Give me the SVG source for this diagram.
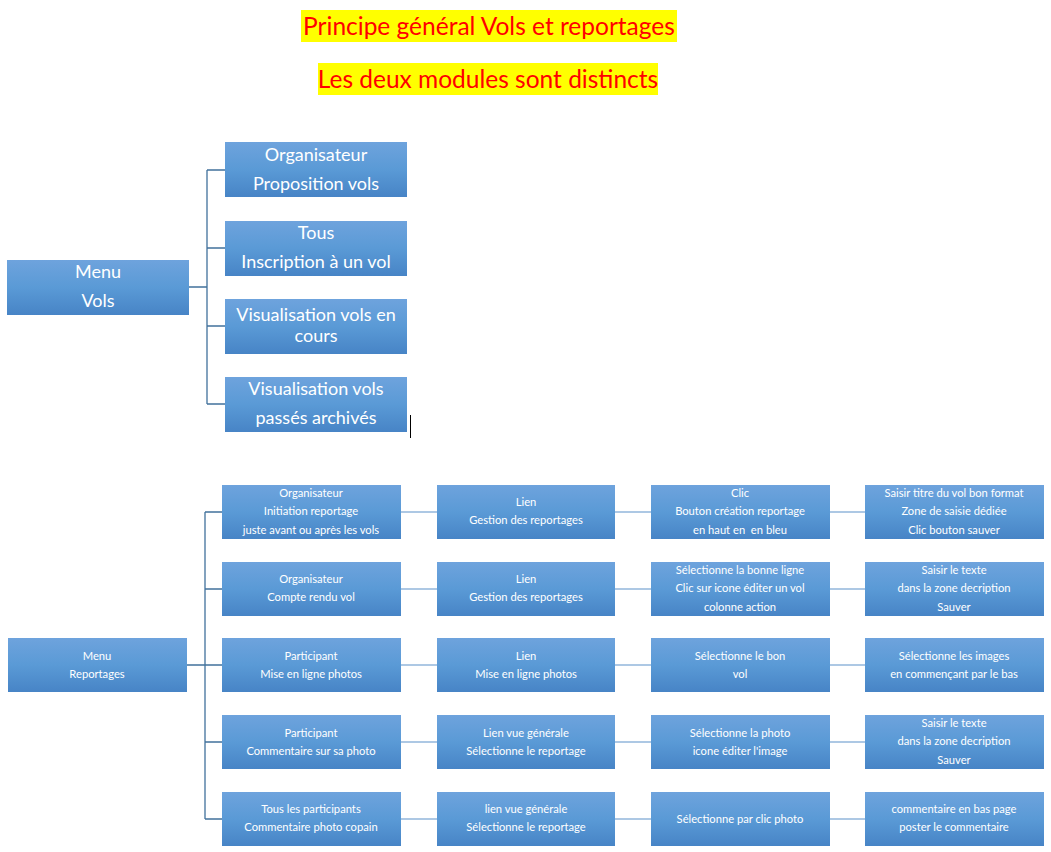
<svg xmlns="http://www.w3.org/2000/svg" width="1051" height="852" viewBox="0 0 1051 852">
<defs>
<linearGradient id="g" x1="0" y1="0" x2="0" y2="1">
<stop offset="0" stop-color="#6ea3dd"/>
<stop offset="0.5" stop-color="#5a9ad6"/>
<stop offset="1" stop-color="#4784c6"/>
</linearGradient>
</defs>
<style>
.b{fill:url(#g);}
.t{font-family:Lato,"Open Sans","Liberation Sans",sans-serif;fill:#ffffff;text-anchor:middle;}
.L{font-size:18px;}
.s{font-size:11.2px;}
.h{font-family:Lato,"Open Sans","Liberation Sans",sans-serif;font-size:24.5px;fill:#ff0000;text-anchor:middle;}
.c{stroke:#41719c;stroke-width:1.3;fill:none;}
.c2{stroke:#93b6dc;stroke-width:1.3;fill:none;}
</style>
<rect width="1051" height="852" fill="#ffffff"/>
<g id="title">
<rect x="301" y="10" width="376" height="32" fill="#ffff00"/>
<text class="h" x="489" y="35">Principe général Vols et reportages</text>
<rect x="318" y="63" width="340" height="32" fill="#ffff00"/>
<text class="h" x="488" y="88">Les deux modules sont distincts</text>
</g>
<g id="connectors">
<path class="c" d="M189 287H207M207 170V404M207 170H225M207 248H225M207 326H225M207 404H225"/>
<path class="c" d="M187 665H205M205 512V819M205 512H222M205 589H222M205 665H222M205 742H222M205 819H222"/>
<path class="c2" d="M401 512H437M615 512H651M830 512H865M401 589H437M615 589H651M830 589H865M401 665H437M615 665H651M830 665H865M401 742H437M615 742H651M830 742H865M401 819H437M615 819H651M830 819H865"/>
</g>
<line x1="410.5" y1="415" x2="410.5" y2="438" stroke="#000000" stroke-width="1"/>
<g id="menu-vols"><rect class="b" x="7" y="260" width="182" height="55"/><text class="t L" x="98" y="278">Menu</text><text class="t L" x="98" y="307">Vols</text></g>
<g id="v1"><rect class="b" x="225" y="142" width="182" height="55"/><text class="t L" x="316" y="161">Organisateur</text><text class="t L" x="316" y="190">Proposition vols</text></g>
<g id="v2"><rect class="b" x="225" y="221" width="182" height="55"/><text class="t L" x="316" y="239">Tous</text><text class="t L" x="316" y="268">Inscription à un vol</text></g>
<g id="v3"><rect class="b" x="225" y="299" width="182" height="55"/><text class="t L" x="316" y="321">Visualisation vols en</text><text class="t L" x="316" y="342">cours</text></g>
<g id="v4"><rect class="b" x="225" y="377" width="182" height="55"/><text class="t L" x="316" y="395">Visualisation vols</text><text class="t L" x="316" y="424">passés archivés</text></g>
<g id="menu-rep"><rect class="b" x="8" y="638" width="179" height="54"/><text class="t s" x="97" y="660">Menu</text><text class="t s" x="97" y="678">Reportages</text></g>
<g id="r1c1"><rect class="b" x="222" y="485" width="179" height="54"/><text class="t s" x="311" y="497">Organisateur</text><text class="t s" x="311" y="515">Initiation reportage</text><text class="t s" x="311" y="534">juste avant ou après les vols</text></g>
<g id="r1c2"><rect class="b" x="437" y="485" width="178" height="54"/><text class="t s" x="526" y="506">Lien</text><text class="t s" x="526" y="524">Gestion des reportages</text></g>
<g id="r1c3"><rect class="b" x="651" y="485" width="179" height="54"/><text class="t s" x="740" y="497">Clic</text><text class="t s" x="740" y="515">Bouton création reportage</text><text class="t s" x="740" y="534" xml:space="preserve" style="white-space:pre">en haut en  en bleu</text></g>
<g id="r1c4"><rect class="b" x="865" y="485" width="179" height="54"/><text class="t s" x="954" y="497">Saisir titre du vol bon format</text><text class="t s" x="954" y="515">Zone de saisie dédiée</text><text class="t s" x="954" y="534">Clic bouton sauver</text></g>
<g id="r2c1"><rect class="b" x="222" y="562" width="179" height="54"/><text class="t s" x="311" y="583">Organisateur</text><text class="t s" x="311" y="601">Compte rendu vol</text></g>
<g id="r2c2"><rect class="b" x="437" y="562" width="178" height="54"/><text class="t s" x="526" y="583">Lien</text><text class="t s" x="526" y="601">Gestion des reportages</text></g>
<g id="r2c3"><rect class="b" x="651" y="562" width="179" height="54"/><text class="t s" x="740" y="574">Sélectionne la bonne ligne</text><text class="t s" x="740" y="592">Clic sur icone éditer un vol</text><text class="t s" x="740" y="611">colonne action</text></g>
<g id="r2c4"><rect class="b" x="865" y="562" width="179" height="54"/><text class="t s" x="954" y="574">Saisir le texte</text><text class="t s" x="954" y="592">dans la zone decription</text><text class="t s" x="954" y="611">Sauver</text></g>
<g id="r3c1"><rect class="b" x="222" y="638" width="179" height="54"/><text class="t s" x="311" y="660">Participant</text><text class="t s" x="311" y="678">Mise en ligne photos</text></g>
<g id="r3c2"><rect class="b" x="437" y="638" width="178" height="54"/><text class="t s" x="526" y="660">Lien</text><text class="t s" x="526" y="678">Mise en ligne photos</text></g>
<g id="r3c3"><rect class="b" x="651" y="638" width="179" height="54"/><text class="t s" x="740" y="660">Sélectionne le bon</text><text class="t s" x="740" y="678">vol</text></g>
<g id="r3c4"><rect class="b" x="865" y="638" width="179" height="54"/><text class="t s" x="954" y="660">Sélectionne les images</text><text class="t s" x="954" y="678">en commençant par le bas</text></g>
<g id="r4c1"><rect class="b" x="222" y="715" width="179" height="54"/><text class="t s" x="311" y="737">Participant</text><text class="t s" x="311" y="755">Commentaire sur sa photo</text></g>
<g id="r4c2"><rect class="b" x="437" y="715" width="178" height="54"/><text class="t s" x="526" y="737">Lien vue générale</text><text class="t s" x="526" y="755">Sélectionne le reportage</text></g>
<g id="r4c3"><rect class="b" x="651" y="715" width="179" height="54"/><text class="t s" x="740" y="737">Sélectionne la photo</text><text class="t s" x="740" y="755">icone éditer l'image</text></g>
<g id="r4c4"><rect class="b" x="865" y="715" width="179" height="54"/><text class="t s" x="954" y="727">Saisir le texte</text><text class="t s" x="954" y="745">dans la zone decription</text><text class="t s" x="954" y="764">Sauver</text></g>
<g id="r5c1"><rect class="b" x="222" y="792" width="179" height="54"/><text class="t s" x="311" y="813">Tous les participants</text><text class="t s" x="311" y="831">Commentaire photo copain</text></g>
<g id="r5c2"><rect class="b" x="437" y="792" width="178" height="54"/><text class="t s" x="526" y="813">lien vue générale</text><text class="t s" x="526" y="831">Sélectionne le reportage</text></g>
<g id="r5c3"><rect class="b" x="651" y="792" width="179" height="54"/><text class="t s" x="740" y="823">Sélectionne par clic photo</text></g>
<g id="r5c4"><rect class="b" x="865" y="792" width="179" height="54"/><text class="t s" x="954" y="813">commentaire en bas page</text><text class="t s" x="954" y="831">poster le commentaire</text></g>
</svg>
